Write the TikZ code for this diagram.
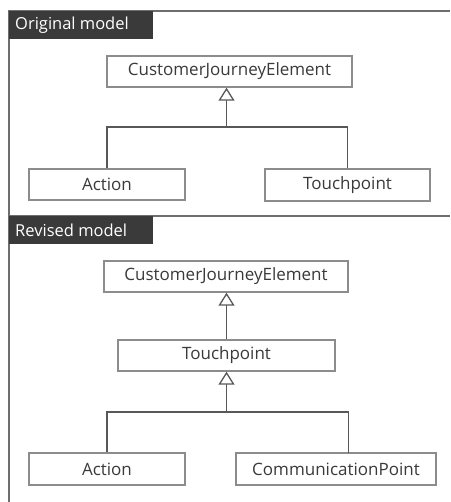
\documentclass[tikz,border=0pt]{standalone}
\usepackage{fontspec}
\setmainfont{Open Sans}
\usepackage{tikz}
\usetikzlibrary{arrows.meta,calc}

\definecolor{txtgray}{HTML}{3A3A3A}
\definecolor{boxgray}{HTML}{8C8C8C}
\definecolor{framegray}{HTML}{6E6E6E}

\tikzset{
  cls/.style={draw=boxgray, line width=1.4pt, fill=white, text=txtgray,
    inner sep=0pt, font=\fontsize{17}{19}\selectfont},
  tag/.style={fill=txtgray, text=white, inner sep=0pt, anchor=north west,
    font=\fontsize{17}{19}\selectfont},
  link/.style={draw=txtgray!85, line width=1.6pt},
  gen/.style={link, -{Triangle[open, fill=white, line width=1.3pt, length=13pt, width=16pt]}}
}

\begin{document}
\begin{tikzpicture}[x=1pt, y=-1pt]
    \useasboundingbox (0,0) rectangle (450,502);

    % panel frames
    \draw[framegray, line width=1.6pt] (450,11) -- (9,11) -- (9,502);
    \draw[framegray, line width=1.6pt] (9,216) -- (450,216);

    % Original model
    \node[tag, minimum width=144pt, minimum height=28pt] (tagA) at (9,11) {};
    \node[anchor=west, text=white, inner sep=0pt, font=\fontsize{16.5}{19}\selectfont] (tagAtxt) at (15,25) {Original model};

    \node[cls, minimum width=245pt, minimum height=31pt] (cjeA) at (229.5,71.5) {CustomerJourneyElement};
    \node[cls, minimum width=156pt, minimum height=31pt] (actA) at (107,184.5) {Action};
    \node[cls, minimum width=165pt, minimum height=32pt] (tpA) at (347.5,185) {Touchpoint};

    \coordinate (jA) at (226.5,127);
    \draw[link] (actA.north) |- (jA) -| (tpA.north);
    \draw[gen] (jA) -- (jA |- cjeA.south);

    % Revised model
    \node[tag, minimum width=144pt, minimum height=28pt] (tagB) at (9,216) {};
    \node[anchor=west, text=white, inner sep=0pt, font=\fontsize{16.5}{19}\selectfont] (tagBtxt) at (15,230) {Revised model};

    \node[cls, minimum width=244pt, minimum height=31pt] (cjeB) at (226,276.5) {CustomerJourneyElement};
    \node[cls, minimum width=217pt, minimum height=31pt] (tpB) at (226.5,355.5) {Touchpoint};
    \node[cls, minimum width=156pt, minimum height=32pt] (actB) at (107,469) {Action};
    \node[cls, minimum width=200pt, minimum height=32pt] (cpB) at (336,469) {CommunicationPoint};

    \draw[gen] (tpB.north) -- (tpB.north |- cjeB.south);

    \coordinate (jB) at (226.5,412);
    \coordinate (cpTop) at (348.5,453);
    \draw[link] (actB.north) |- (jB) -| (cpTop);
    \draw[gen] (jB) -- (jB |- tpB.south);
\end{tikzpicture}
\end{document}
